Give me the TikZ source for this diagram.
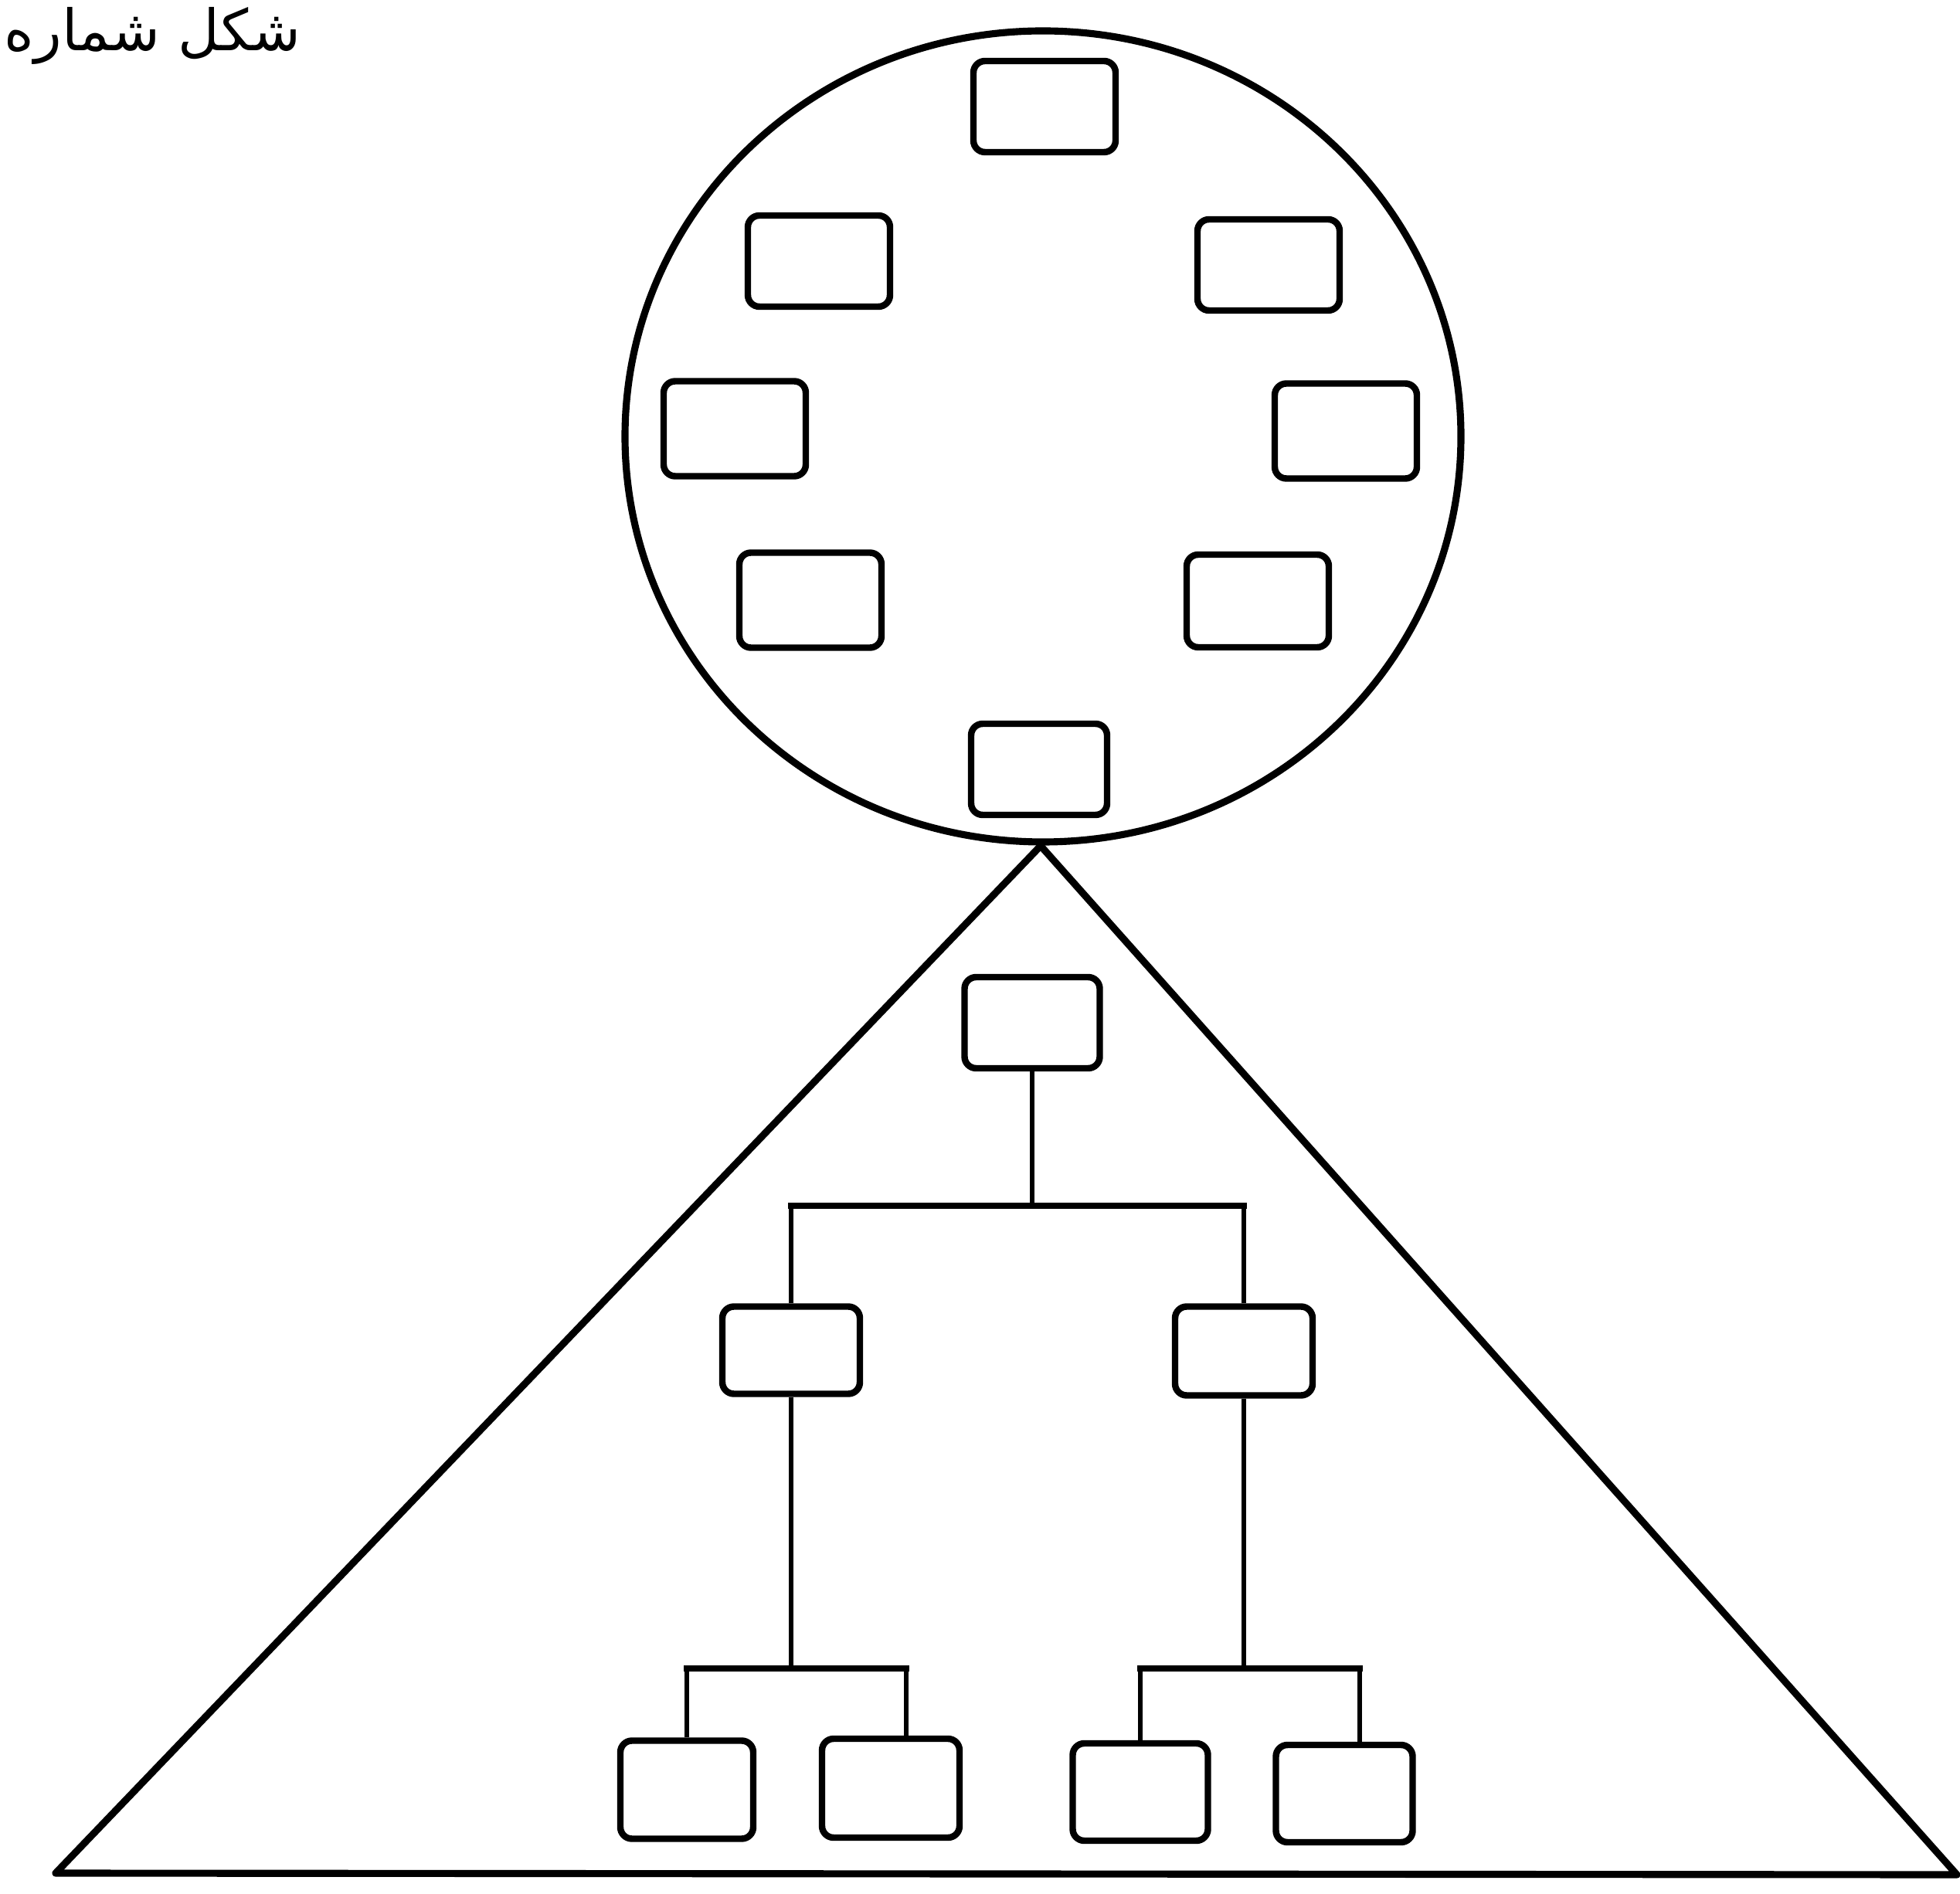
\documentclass[tikz,border=0pt]{standalone}
\usepackage{fontspec}
\newfontfamily\arabicfont[Script=Arabic]{DejaVu Sans}
\TeXXeTstate=1
\begin{document}
\begin{tikzpicture}[
  orgouter/.style = {line width=2.6pt, line join=round},
  orgbox/.style = {draw, line width=2.4pt, rounded corners=1.5mm, inner sep=0pt,
                   minimum width=1.84cm, minimum height=1.18cm},
  orglink/.style = {line width=1.6pt},
  orgbus/.style = {line width=2.4pt, line cap=rect},
  orglbl/.style = {font=\arabicfont\fontsize{21}{26}\selectfont, inner sep=0pt}
]
  \useasboundingbox (0,0) rectangle (25.37,-24.52);
  % title
  \node[orglbl, anchor=base west] (title) at (0.05,-0.66) {\beginR شکل شماره\endR};
  % circle of boxes
  \draw[orgouter] (13.50,-5.65) ellipse (5.41cm and 5.25cm);
  \node[orgbox] (ctop) at (13.52,-1.38) {};
  \node[orgbox] (cul) at (10.60,-3.38) {};
  \node[orgbox] (cur) at (16.42,-3.43) {};
  \node[orgbox, minimum height=1.23cm] (cml) at (9.51,-5.55) {};
  \node[orgbox, minimum height=1.23cm] (cmr) at (17.42,-5.58) {};
  \node[orgbox, minimum height=1.23cm] (cll) at (10.49,-7.77) {};
  \node[orgbox, minimum height=1.2cm] (clr) at (16.28,-7.78) {};
  \node[orgbox, minimum width=1.76cm] (cbot) at (13.45,-9.96) {};
  % triangle
  \coordinate (apex) at (13.47,-10.95);
  \coordinate (baseL) at (0.72,-24.25);
  \coordinate (baseR) at (25.33,-24.27);
  \draw[orgouter] (apex) -- (baseL) -- (baseR) -- cycle;
  % hierarchy
  \node[orgbox, minimum width=1.75cm] (root) at (13.36,-13.24) {};
  \node[orgbox, minimum width=1.78cm, minimum height=1.13cm] (left) at (10.24,-17.48) {};
  \node[orgbox, minimum width=1.78cm, minimum height=1.15cm] (right) at (16.10,-17.49) {};
  \node[orgbox, minimum width=1.72cm, minimum height=1.27cm] (leafA) at (8.89,-23.17) {};
  \node[orgbox, minimum width=1.78cm, minimum height=1.28cm] (leafB) at (11.53,-23.15) {};
  \node[orgbox, minimum width=1.75cm, minimum height=1.26cm] (leafC) at (14.76,-23.20) {};
  \node[orgbox, minimum width=1.77cm, minimum height=1.26cm] (leafD) at (17.40,-23.22) {};
  \coordinate (bus0) at (13.36,-15.61);
  \coordinate (busL) at (10.24,-21.60);
  \coordinate (busR) at (16.10,-21.60);
  \draw[orglink] (root.south) -- (bus0);
  \draw[orglink] (left.north) -- (left.north |- bus0);
  \draw[orglink] (right.north) -- (right.north |- bus0);
  \draw[orgbus] (left.north |- bus0) -- (right.north |- bus0);
  \draw[orglink] (left.south) -- (busL);
  \draw[orglink] (leafA.north) |- (busL) -| ([xshift=2mm]leafB.north);
  \draw[orgbus] (leafA.north |- busL) -- ([xshift=2mm]leafB.north |- busL);
  \draw[orglink] (right.south) -- (busR);
  \draw[orglink] (leafC.north) |- (busR) -| ([xshift=2mm]leafD.north);
  \draw[orgbus] (leafC.north |- busR) -- ([xshift=2mm]leafD.north |- busR);
\end{tikzpicture}
\end{document}
